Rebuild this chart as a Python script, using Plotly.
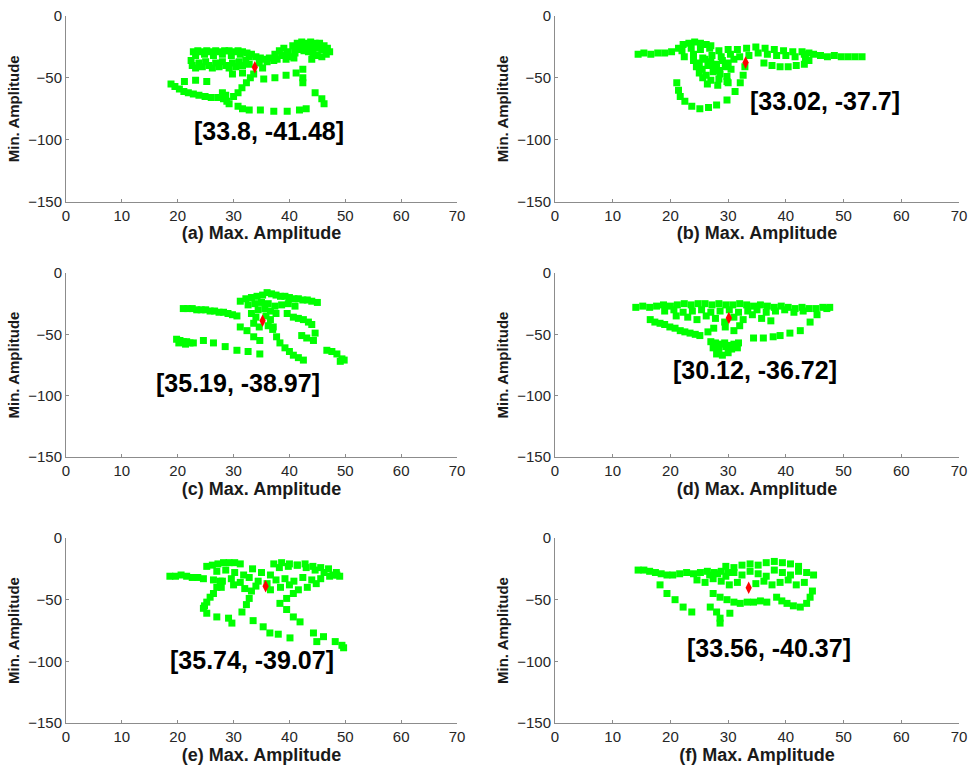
import plotly.graph_objects as go

# ---------------- data ----------------
PANELS = ["a", "b", "c", "d", "e", "f"]
CENTER_X = [33.8, 33.02, 35.19, 30.12, 35.74, 33.56]
CENTER_Y = [-41.48, -37.7, -38.97, -36.72, -39.07, -40.37]
X_TICKS = [0, 10, 20, 30, 40, 50, 60, 70]
Y_TICKS = [-150, -100, -50, 0]

A_X = [22.8, 23.6, 24.4, 25.2, 26.0, 26.8, 27.6, 28.4, 29.2, 30.0, 30.8, 31.6, 32.4, 33.2,
       23.2, 24.8, 26.4, 28.0, 29.6, 31.2, 32.8, 34.0, 34.8, 35.6, 36.4,
       22.4, 22.6, 23.2, 23.8, 24.4, 25.0, 25.6, 26.2, 26.8, 27.4, 28.0, 28.6, 29.2, 29.8, 30.4, 31.0, 31.6, 32.2, 32.8, 34.6, 35.2, 36.0,
       37.4, 38.2, 39.0, 39.8, 40.6, 41.4, 42.2, 43.0, 43.8, 44.6, 45.4, 46.2, 46.8, 47.2, 46.6, 45.8, 45.0, 44.2, 43.4, 42.6, 41.8, 41.0, 40.2, 39.4, 38.6, 37.8, 37.2,
       45.8, 44.8, 43.6, 42.5, 41.0, 39.6, 40.8, 44.0,
       29.8, 31.6, 33.6, 35.4, 37.4, 39.4, 41.2, 42.4, 42.4, 42.4,
       44.6, 45.8, 46.2,
       18.8, 19.5, 20.3, 21.1, 21.9, 22.8, 23.8, 24.9, 26.0, 27.2, 28.2, 28.8, 29.2, 28.6, 28.0,
       21.2, 23.2, 25.2,
       30.0, 30.8, 31.5, 32.3, 33.0,
       30.8, 31.6, 32.8, 34.8, 37.2, 39.6, 41.8, 43.0]
A_Y = [-29, -28, -29, -28, -29, -28, -29, -28, -28, -29, -28, -29, -30, -31,
       -32, -31, -32, -31, -32, -31, -33, -33, -34, -35, -34,
       -36, -40, -42, -38, -41, -37, -40, -42, -38, -41, -37, -40, -42, -38, -41, -37, -40, -36, -39, -38, -42, -37,
       -31, -28, -26, -29, -24, -22, -21, -22, -21, -22, -22, -24, -26, -29, -31, -33, -32, -30, -29, -28, -27, -30, -33, -35, -32, -35, -36,
       -27, -26, -25, -24, -25, -31, -34, -35,
       -47, -46, -47, -51, -50, -48, -46, -43, -50, -54,
       -62, -67, -71,
       -55, -57, -59, -61, -62, -63, -64, -65, -66, -66, -67, -69, -71, -64, -62,
       -53, -52, -53,
       -65, -62, -58, -54, -50,
       -73, -75, -76, -76, -77, -77, -76, -75]

B_X = [14.4, 15.4, 16.6, 17.8, 19.0, 20.2,
       21.4, 22.2, 23.2, 24.2, 25.2, 26.2, 27.0,
       22.0, 23.6, 25.2, 26.8, 28.4, 30.0, 31.6, 33.2, 34.8, 36.4, 38.0, 39.6, 41.2, 42.8, 44.0,
       22.4, 24.0, 25.6, 27.2, 28.8, 30.4, 32.0, 33.6, 35.2, 36.8, 38.4, 40.0, 41.6, 43.2,
       44.8, 46.0, 47.2, 48.4, 49.6, 50.8, 52.0, 53.2,
       36.2, 37.6, 39.0, 40.4, 41.8, 43.2, 44.0, 43.4,
       24.0, 25.0, 26.0, 27.0, 28.0, 29.0, 30.0, 31.0, 24.5, 25.5, 26.5, 27.5, 28.5, 29.5, 30.5,
       25.0, 26.2, 27.4, 28.6, 29.8, 25.6, 27.0, 28.4, 29.8, 26.4, 28.2, 30.0,
       21.1, 21.4, 21.7, 22.5, 23.7, 25.1, 26.6, 28.0, 29.8, 31.2, 32.1, 32.6, 32.9]
B_Y = [-31, -30, -31, -30, -30, -29,
       -26, -23, -22, -21, -22, -23, -24,
       -28, -26, -27, -26, -28, -27, -27, -26, -25, -26, -27, -28, -29, -29, -30,
       -33, -31, -34, -32, -33, -31, -33, -32, -30, -31, -32, -32, -33, -31,
       -31, -32, -33, -32, -33, -33, -33, -33,
       -38, -40, -41, -41, -40, -39, -36, -34,
       -36, -38, -35, -37, -39, -36, -38, -35, -41, -43, -40, -42, -44, -41, -43,
       -46, -48, -45, -47, -49, -50, -52, -51, -53, -55, -56, -54,
       -54, -60, -65, -69, -73, -75, -74, -72, -68, -61, -54, -48, -41]

C_X = [31.2, 32.2, 33.2, 34.2, 35.2, 36.0, 36.8, 37.6, 38.4, 39.2, 40.0, 40.8, 41.6, 42.4, 43.2, 44.0, 45.0,
       32.6, 33.8, 35.0, 36.2, 37.4, 38.6, 39.8, 41.0, 34.4, 35.6, 36.6, 37.6,
       21.0, 21.8, 22.6, 23.4, 24.2, 25.0, 25.8, 26.6, 27.4, 28.2, 29.0, 29.8, 30.6,
       33.2, 34.0, 35.8, 36.6, 33.6, 34.6, 36.2, 37.0,
       19.8, 20.4, 21.0, 21.6, 22.2, 22.8, 20.2, 21.4,
       24.6, 26.4, 28.5, 30.6, 32.6, 34.7,
       37.1, 37.7, 38.3, 39.2, 40.0, 40.7, 41.6, 42.5,
       31.2, 32.4, 33.6, 34.7,
       39.6, 40.7, 41.6, 42.5, 43.4, 44.0, 44.6, 44.3, 43.1, 42.2,
       46.7, 47.6, 48.5, 49.4, 49.1, 49.8]
C_Y = [-23, -21, -20, -19, -18, -16, -17, -18, -19, -19, -20, -21, -21, -22, -22, -23, -24,
       -26, -25, -24, -25, -27, -26, -25, -27, -30, -29, -31, -33,
       -29, -29, -29, -30, -30, -30, -31, -31, -32, -32, -33, -34, -35,
       -33, -36, -35, -38, -41, -44, -43, -46,
       -54, -55, -56, -56, -57, -57, -57, -58,
       -55, -57, -60, -63, -64, -66,
       -44, -52, -57, -61, -64, -67, -69, -71,
       -44, -47, -52, -55,
       -33, -36, -37, -38, -40, -42, -49, -55, -53, -51,
       -63, -64, -66, -70, -72, -71]

D_X = [14.0, 15.2, 16.4, 17.6, 18.8, 20.0, 21.2, 22.4, 23.6, 24.8, 26.0, 27.2, 28.4, 29.6, 30.8, 32.0, 33.2, 34.4, 35.6, 36.8, 38.0, 39.2, 40.4, 41.6, 42.8, 44.0, 45.2, 46.4, 47.6,
       19.0, 20.6, 22.2, 23.8, 25.4, 27.0, 28.6, 30.2, 31.8, 33.4, 35.0, 36.6, 38.2, 39.8, 41.4, 43.0,
       21.0, 23.0, 24.6, 26.2, 27.8, 29.4, 31.0, 32.6, 34.2, 35.8, 37.4,
       16.5, 17.3, 18.2, 19.0, 19.9, 20.8, 21.7, 22.5, 23.4, 24.3, 25.1,
       34.4, 36.1, 37.8, 39.0, 40.7, 42.5, 44.2, 45.4, 47.1,
       27.0, 27.8, 28.6, 29.4, 30.2, 31.0, 31.8, 27.4, 28.4, 29.6, 30.6, 31.6, 28.0, 29.0, 30.0,
       26.5, 27.5, 29.5, 31.0, 32.0]
D_Y = [-28, -27, -28, -27, -26, -27, -26, -25, -26, -25, -25, -26, -25, -26, -26, -25, -26, -27, -26, -27, -28, -27, -28, -29, -28, -29, -29, -28, -28,
       -31, -30, -32, -31, -30, -32, -31, -30, -32, -31, -30, -32, -31, -30, -32, -31,
       -35, -36, -38, -35, -37, -40, -36, -38, -34, -37, -39,
       -38, -40, -41, -42, -44, -45, -47, -48, -49, -50, -51,
       -53, -53, -52, -51, -49, -47, -40, -34, -29,
       -56, -57, -58, -57, -59, -58, -57, -61, -62, -60, -62, -61, -66, -67, -65,
       -48, -45, -44, -47, -43]

E_X = [18.6, 19.6, 20.6, 21.6, 22.6, 23.6, 24.6,
       25.2, 26.2, 27.2, 28.2, 29.2, 30.2, 31.2,
       27.0, 28.6, 30.2, 31.8, 33.4, 35.0, 36.6, 38.2, 39.8, 41.4, 43.0, 44.6, 46.2, 47.8,
       26.4, 28.0, 29.6, 31.2, 32.8, 34.4, 36.0, 37.6, 39.2, 40.8, 42.4, 44.0, 45.6, 47.2, 48.5,
       27.8, 30.0, 32.0, 34.0, 36.6, 38.4, 40.0, 41.6, 43.2, 44.8,
       37.2, 38.6, 40.0, 41.4, 42.8, 44.2, 45.6, 47.0, 48.4, 49.0,
       27.6, 26.4, 25.2, 24.6, 25.2, 27.0, 29.1, 29.7, 27.0, 25.8, 24.8,
       33.2, 32.8, 32.3, 31.5, 33.5, 35.3, 36.5, 38.0, 40.1,
       40.7, 39.5, 38.3, 39.5, 40.7, 41.9, 44.3, 46.1, 44.9, 48.2, 49.4, 49.7]
E_Y = [-31, -31, -30, -31, -32, -32, -33,
       -23, -22, -21, -20, -20, -20, -21,
       -27, -26, -28, -30, -25, -28, -30, -24, -23, -22, -24, -26, -28, -30,
       -34, -35, -33, -36, -32, -35, -37, -34, -33, -35, -32, -34, -33, -31, -30,
       -40, -38, -41, -39, -42, -40, -38, -42, -40, -37,
       -21, -20, -21, -22, -21, -23, -24, -25, -28, -31,
       -35, -45, -52, -57, -61, -64, -65, -69, -40, -48, -55,
       -43, -49, -54, -60, -67, -72, -77, -78, -81,
       -45, -49, -53, -58, -64, -68, -77, -80, -84, -84, -87, -89]

F_X = [14.4, 15.4, 16.4, 17.4, 18.4, 19.4,
       20.4, 21.6, 22.8, 24.0, 25.2, 26.4, 27.6, 28.8, 30.0,
       29.6, 31.0, 32.4, 33.8, 35.2, 36.6, 38.0, 39.4, 40.8, 42.2,
       26.8, 28.2, 29.6, 31.0, 32.4, 33.8, 35.2, 36.6, 38.0, 39.4, 40.8, 42.2, 43.6, 44.8,
       24.6, 26.0, 27.4, 28.8, 30.2, 31.6, 34.8, 36.2, 37.6, 39.0, 40.4, 41.8, 43.2,
       18.2, 19.4, 20.8, 22.2, 23.7,
       26.9, 28.0, 28.6, 30.3, 28.6,
       27.4, 28.6, 29.8, 31.0, 32.1, 33.3, 34.4, 35.6, 36.7,
       38.4, 39.3, 40.2, 41.3, 42.5, 43.6, 44.2, 44.6]
F_Y = [-26, -26, -27, -28, -29, -30,
       -30, -29, -28, -29, -28, -27, -28, -27, -28,
       -23, -24, -22, -21, -22, -20, -19, -20, -21, -23,
       -30, -29, -31, -28, -30, -27, -29, -31, -26, -28, -30, -27, -28, -30,
       -34, -36, -33, -35, -38, -36, -37, -35, -38, -36, -34, -38, -36,
       -38, -45, -50, -56, -60,
       -56, -60, -65, -61, -69,
       -45, -48, -50, -52, -53, -52, -52, -51, -52,
       -48, -51, -53, -55, -56, -53, -48, -43]

SERIES_X = [A_X, B_X, C_X, D_X, E_X, F_X]
SERIES_Y = [A_Y, B_Y, C_Y, D_Y, E_Y, F_Y]

# ---------------- layout / style ----------------
COL_DOMAINS = [[66 / 979, 457 / 979], [555 / 979, 959 / 979]]
ROW_DOMAINS = [[1 - 201.5 / 768, 1 - 16 / 768],
               [1 - 457 / 768, 1 - 273 / 768],
               [1 - 723 / 768, 1 - 538 / 768]]
LABEL_POS = [(36.3, -93), (46.7, -68.7), (30.8, -89.6),
             (34.7, -79), (33.3, -99), (37.1, -89.2)]

FONT = "Liberation Sans, Arial, sans-serif"
GREEN = "#00ff00"
AXIS_COLOR = "#8c8c8c"
TEXT_COLOR = "#262626"

fig = go.Figure()
layout = dict(
    width=979, height=768,
    margin=dict(l=0, r=0, t=0, b=0),
    paper_bgcolor="white", plot_bgcolor="white",
    showlegend=False,
    font=dict(family=FONT, color=TEXT_COLOR),
)
annotations = []

for i, p in enumerate(PANELS):
    row, col = divmod(i, 2)
    n = "" if i == 0 else str(i + 1)
    xa, ya = "x" + n, "y" + n
    fig.add_trace(go.Scatter(
        x=SERIES_X[i], y=SERIES_Y[i], mode="markers",
        marker=dict(symbol="square", size=7, color=GREEN, line=dict(width=0)),
        xaxis=xa, yaxis=ya, hoverinfo="skip"))
    fig.add_trace(go.Scatter(
        x=[CENTER_X[i]], y=[CENTER_Y[i]], mode="markers",
        marker=dict(symbol="diamond-tall", size=9, color="red", line=dict(width=0)),
        xaxis=xa, yaxis=ya, hoverinfo="skip"))
    layout["xaxis" + n] = dict(
        domain=COL_DOMAINS[col], anchor=ya, range=[0, 70],
        tickvals=X_TICKS, ticks="inside", ticklen=3, tickcolor=AXIS_COLOR,
        showline=True, linecolor=AXIS_COLOR, linewidth=1,
        showgrid=False, zeroline=False, automargin=False,
        tickfont=dict(size=15, color=TEXT_COLOR, family=FONT),
        title=dict(text="<b>(%s) Max. Amplitude</b>" % p, standoff=2,
                   font=dict(size=18, color="#1a1a1a", family=FONT)),
    )
    layout["yaxis" + n] = dict(
        domain=ROW_DOMAINS[row], anchor=xa, range=[-150, 0],
        tickvals=Y_TICKS, ticks="inside", ticklen=3, tickcolor=AXIS_COLOR,
        showline=True, linecolor=AXIS_COLOR, linewidth=1,
        showgrid=False, zeroline=False, automargin=False,
        tickfont=dict(size=15, color=TEXT_COLOR, family=FONT),
        title=dict(text="<b>Min. Amplitude</b>", standoff=4,
                   font=dict(size=15, color="#1a1a1a", family=FONT)),
    )
    lx, ly = LABEL_POS[i]
    annotations.append(dict(
        x=lx, y=ly, xref=xa, yref=ya, showarrow=False,
        text="<b>[%s, %s]</b>" % (CENTER_X[i], CENTER_Y[i]),
        font=dict(size=25, color="black", family=FONT),
        xanchor="center", yanchor="middle"))

layout["annotations"] = annotations
fig.update_layout(**layout)
fig.write_html("out.html")
